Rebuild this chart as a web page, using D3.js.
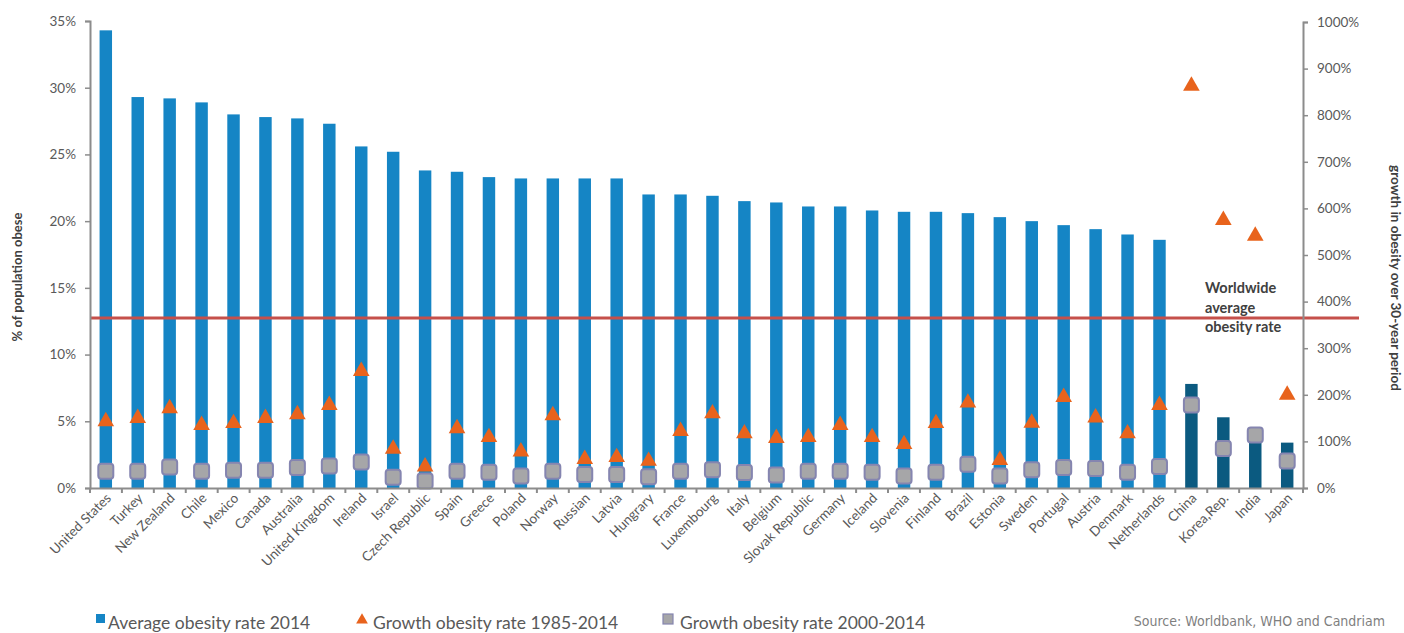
<!DOCTYPE html>
<html>
<head>
<meta charset="utf-8">
<script src="https://cdn.jsdelivr.net/npm/d3@7"></script>
<style>
  html, body { margin: 0; padding: 0; background: #fff; }
  svg { display: block; font-family: Lato, "Open Sans", sans-serif; }
</style>
</head>
<body>
<svg id="chart" width="1404" height="633"></svg>
<script>
// Countries, in the order shown along the x axis
const countries = ["United States","Turkey","New Zealand","Chile","Mexico","Canada","Australia","United Kingdom","Ireland","Israel","Czech Republic","Spain","Greece","Poland","Norway","Russian","Latvia","Hungrary","France","Luxembourg","Italy","Belgium","Slovak Republic","Germany","Iceland","Slovenia","Finland","Brazil","Estonia","Sweden","Portugal","Austria","Denmark","Netherlands","China","Korea,Rep.","India","Japan"];

// Average obesity rate 2014 (% of population)
const obesity2014 = [34.3,29.3,29.2,28.9,28.0,27.8,27.7,27.3,25.6,25.2,23.8,23.7,23.3,23.2,23.2,23.2,23.2,22.0,22.0,21.9,21.5,21.4,21.1,21.1,20.8,20.7,20.7,20.6,20.3,20.0,19.7,19.4,19.0,18.6,7.8,5.3,3.9,3.4];

// Growth in obesity rate 1985-2014 (%)
const growth1985 = [145,152,173,137,141,152,160,180,253,86,48,130,111,80,158,64,68,60,124,162,119,109,111,137,111,96,141,185,62,142,197,153,119,180,865,577,543,202];

// Growth in obesity rate 2000-2014 (%)
const growth2000 = [36,36,45,36,38,38,44,47,56,23,15,36,34,26,36,29,29,24,36,39,33,28,36,36,34,26,34,51,26,39,44,42,34,46,178,85,114,58];

// Number of countries drawn with the lighter bar colour
const oecdCount = 34;

// Worldwide average obesity rate (%)
const worldAverage = 12.75;

const leftTicks = [0,5,10,15,20,25,30,35];
const rightTicks = [0,100,200,300,400,500,600,700,800,900,1000];

const svg = d3.select("#chart");
const m = { left: 90, right: 1303, top: 21, bottom: 488 };

const x = d3.scaleBand().domain(countries).range([m.left, m.right]).paddingInner(0.61).paddingOuter(0.3);
const yL = d3.scaleLinear().domain([0, 35]).range([m.bottom, m.top]);
const yR = d3.scaleLinear().domain([0, 1000]).range([m.bottom, m.top + 1]);

const axisColor = "#8c8c8c";
const textColor = "#595959";

// Bars
svg.append("g").selectAll("rect")
  .data(countries)
  .join("rect")
  .attr("x", d => x(d))
  .attr("width", x.bandwidth())
  .attr("y", (d, i) => yL(obesity2014[i]))
  .attr("height", (d, i) => m.bottom - yL(obesity2014[i]))
  .attr("fill", (d, i) => i < oecdCount ? "#1585c5" : "#0b5a80");

// Worldwide average line
svg.append("line")
  .attr("x1", m.left).attr("x2", 1359)
  .attr("y1", yL(worldAverage)).attr("y2", yL(worldAverage))
  .attr("stroke", "#c5504b").attr("stroke-width", 3);

svg.append("text")
  .attr("x", 1205).attr("y", 293)
  .attr("font-size", 14.5).attr("font-weight", "bold").attr("fill", "#404040")
  .selectAll("tspan")
  .data(["Worldwide", "average", "obesity rate"])
  .join("tspan")
  .attr("x", 1205)
  .attr("dy", (d, i) => i === 0 ? 0 : 19.5)
  .text(d => d);

// Marker soft edge
const defs = svg.append("defs");
defs.append("filter").attr("id", "soft")
  .attr("x", "-30%").attr("y", "-30%").attr("width", "160%").attr("height", "160%")
  .append("feGaussianBlur").attr("stdDeviation", 0.6);

const cx = d => x(d) + x.bandwidth() / 2;

// Growth 2000-2014 squares
svg.append("g").attr("filter", "url(#soft)").selectAll("rect")
  .data(countries)
  .join("rect")
  .attr("x", d => cx(d) - 7.5)
  .attr("y", (d, i) => yR(growth2000[i]) - 7.5)
  .attr("width", 15).attr("height", 15)
  .attr("rx", 3)
  .attr("fill", "#a6a6a8")
  .attr("stroke", "#8585b0")
  .attr("stroke-width", 2);

// Growth 1985-2014 triangles
const tri = d3.symbol().type(d3.symbolTriangle).size(120);
svg.append("g").attr("filter", "url(#soft)").selectAll("path")
  .data(countries)
  .join("path")
  .attr("d", tri)
  .attr("transform", (d, i) => `translate(${cx(d)},${yR(growth1985[i]) + 1})`)
  .attr("fill", "#e8631d");

// Left axis
const gL = svg.append("g").attr("transform", `translate(${m.left},0)`)
  .call(d3.axisLeft(yL).tickValues(leftTicks).tickSize(5).tickPadding(9).tickFormat(d => d + "%"));
// Right axis
const gR = svg.append("g").attr("transform", `translate(${m.right},0)`)
  .call(d3.axisRight(yR).tickValues(rightTicks).tickSize(5).tickPadding(9).tickFormat(d => d + "%"));
// Bottom axis
const gB = svg.append("g").attr("transform", `translate(0,${m.bottom})`)
  .call(d3.axisBottom(x).tickSize(0).tickPadding(0).tickFormat(""));

// Category separator ticks
const bounds = d3.range(countries.length + 1).map(i => m.left + i * (m.right - m.left) / countries.length);
gB.selectAll(".sep").data(bounds).join("line")
  .attr("class", "sep")
  .attr("x1", d => d).attr("x2", d => d)
  .attr("y1", 0).attr("y2", 5)
  .attr("stroke", axisColor).attr("stroke-width", 2);

[gL, gR, gB].forEach(g => {
  g.select(".domain").attr("stroke", axisColor).attr("stroke-width", 2);
  g.selectAll(".tick line").attr("stroke", axisColor).attr("stroke-width", 1.5);
  g.selectAll(".tick text").attr("fill", textColor).attr("font-size", 13.5).attr("font-family", "Lato, sans-serif");
});

// Rotated category labels
svg.append("g").selectAll("text")
  .data(countries)
  .join("text")
  .attr("transform", d => `translate(${cx(d) + 6},${m.bottom + 11}) rotate(-45)`)
  .attr("text-anchor", "end")
  .attr("font-size", 13.5)
  .attr("fill", textColor)
  .text(d => d);

// Axis titles
svg.append("text")
  .attr("transform", `translate(22,277) rotate(-90)`)
  .attr("text-anchor", "middle")
  .attr("font-size", 13).attr("font-weight", "bold").attr("fill", "#404040")
  .text("% of population obese");

svg.append("text")
  .attr("transform", `translate(1391,278) rotate(90)`)
  .attr("text-anchor", "middle")
  .attr("font-size", 13.5).attr("font-weight", "bold").attr("fill", "#404040")
  .text("growth in obesity over 30-year period");

// Legend
const legend = svg.append("g").attr("font-size", 17.5).attr("fill", textColor);
legend.append("rect").attr("x", 96).attr("y", 614).attr("width", 9).attr("height", 9).attr("fill", "#1585c5");
legend.append("text").attr("x", 108).attr("y", 629).text("Average obesity rate 2014");
legend.append("path").attr("d", d3.symbol().type(d3.symbolTriangle).size(60)).attr("transform", "translate(362,620)").attr("fill", "#e8631d");
legend.append("text").attr("x", 373).attr("y", 629).text("Growth obesity rate 1985-2014");
legend.append("rect").attr("x", 663).attr("y", 614).attr("width", 10).attr("height", 10).attr("fill", "#a6a6a8").attr("stroke", "#8585b0").attr("stroke-width", 1.2);
legend.append("text").attr("x", 680).attr("y", 629).text("Growth obesity rate 2000-2014");

svg.append("text")
  .attr("x", 1385).attr("y", 626)
  .attr("text-anchor", "end")
  .attr("font-size", 14)
  .attr("font-family", "'DejaVu Sans Condensed', 'Liberation Sans Narrow', sans-serif")
  .attr("fill", "#7f7f7f")
  .text("Source: Worldbank, WHO and Candriam");
</script>
</body>
</html>
